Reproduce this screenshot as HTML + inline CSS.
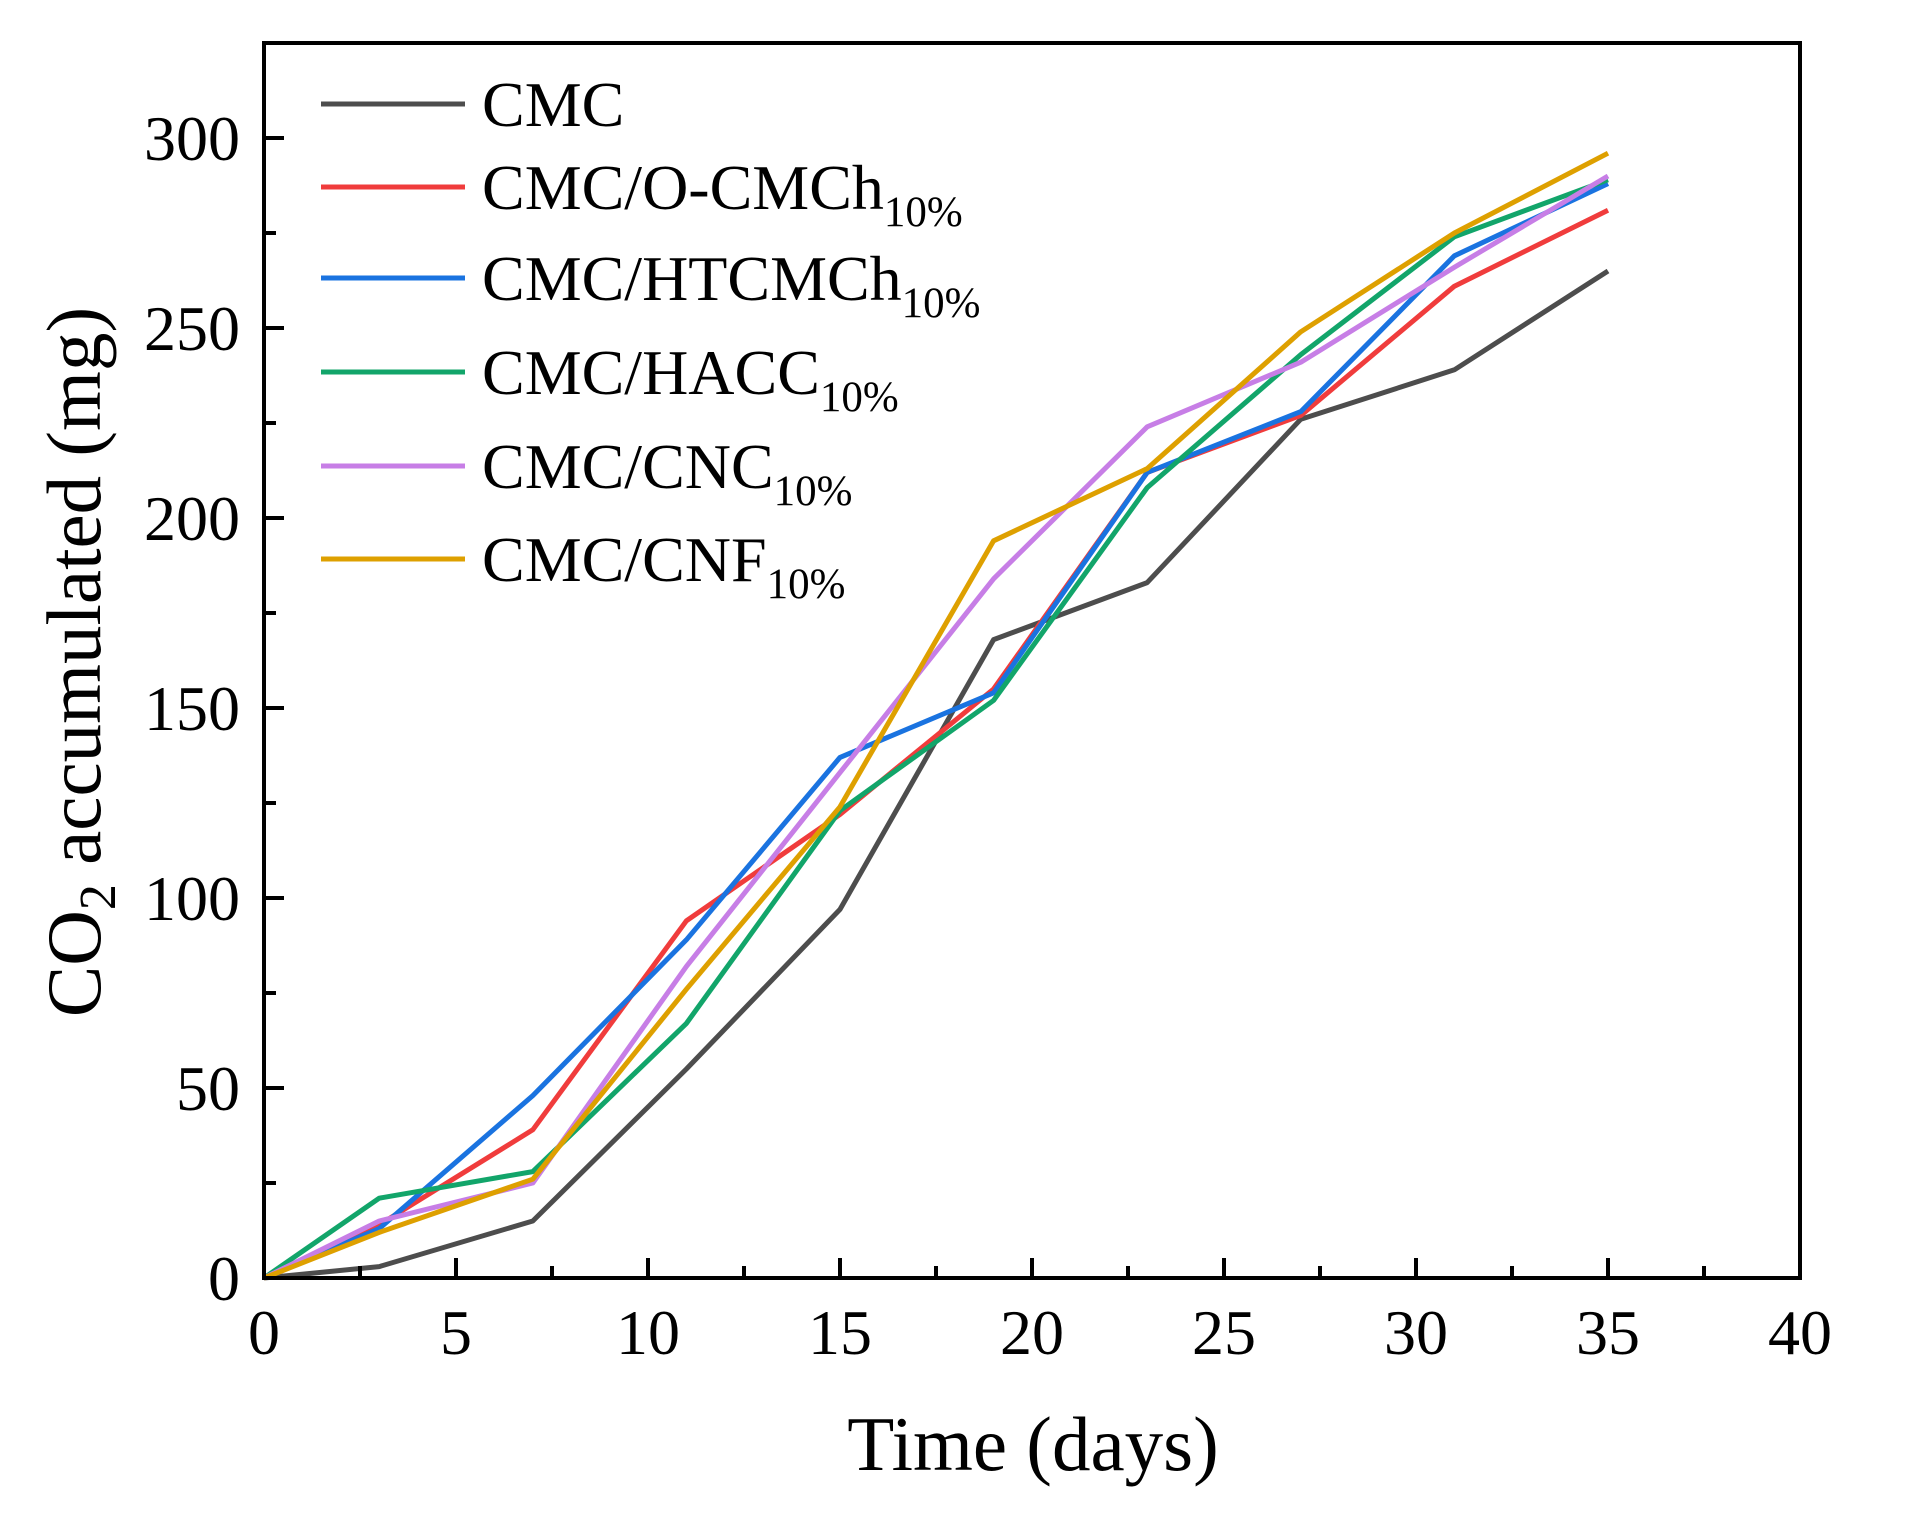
<!DOCTYPE html>
<html><head><meta charset="utf-8"><style>
body{margin:0;background:#fff}
svg text{font-family:"Liberation Serif",serif;fill:#000}
</style></head><body>
<svg id="chart" width="1912" height="1528" xmlns="http://www.w3.org/2000/svg">
</svg>
<script>
const days = [0,3,7,11,15,19,23,27,31,35];
const seriesNames = ["CMC","CMC/O-CMCh","CMC/HTCMCh","CMC/HACC","CMC/CNC","CMC/CNF"];
const seriesSubs = ["","10%","10%","10%","10%","10%"];
const colors = ["#4d4d4d","#f03c3c","#1a73e0","#12a56a","#c77ee6","#dea000"];
const cmc = [0,3,15,55,97,168,183,226,239,265];
const ocmch = [0,14,39,94,122,155,212,227,261,281];
const htcmch = [0,13,48,89,137,154,212,228,269,288];
const hacc = [0,21,28,67,123,152,208,243,274,289];
const cnc = [0,15,25,82,133,184,224,241,266,290];
const cnf = [0,12,26,76,124,194,213,249,275,296];
const xTicks = [0,5,10,15,20,25,30,35,40];
const yTicks = [0,50,100,150,200,250,300];

const NS="http://www.w3.org/2000/svg";
const svg=document.getElementById('chart');
const L=264,R=1800,T=43,B=1278;
const xs=v=>L+(R-L)*v/40;
const ys=v=>B-(v/50)*190;
function mk(tag,attrs,parent){const e=document.createElementNS(NS,tag);for(const k in attrs)e.setAttribute(k,attrs[k]);(parent||svg).appendChild(e);return e;}

const data=[cmc,ocmch,htcmch,hacc,cnc,cnf];
data.forEach((arr,i)=>{
  const p=mk('polyline',{points:arr.map((v,j)=>xs(days[j])+','+ys(v)).join(' '),fill:'none',stroke:colors[i],'stroke-width':5,'stroke-linejoin':'round'});
  
  
});
const fr=mk('rect',{x:L,y:T,width:R-L,height:B-T,fill:'none',stroke:'#000','stroke-width':4});


for(let v=0;v<=40;v+=2.5){
  const major=v%5===0;
  const t=mk('line',{x1:xs(v),x2:xs(v),y1:B,y2:B-(major?20:12),stroke:'#000','stroke-width':4});
  
  
}
xTicks.forEach(v=>{
  const t=mk('text',{x:xs(v),y:1354,'font-size':64,'text-anchor':'middle'});
  t.textContent=v;
  
  
});
for(let v=0;v<=325;v+=25){
  const major=v%50===0;
  const t=mk('line',{x1:L,x2:L+(major?20:12),y1:ys(v),y2:ys(v),stroke:'#000','stroke-width':4});
  
  
}
yTicks.forEach(v=>{
  const t=mk('text',{x:240,y:ys(v)+22,'font-size':64,'text-anchor':'end'});
  t.textContent=v;
  
  
});
const xt=mk('text',{x:1033,y:1470,'font-size':77,'text-anchor':'middle'});
xt.textContent='Time (days)';


const yt=mk('text',{transform:'translate(100,662) rotate(-90)','font-size':77,'text-anchor':'middle'});
yt.innerHTML='CO<tspan font-size="52" dy="15">2</tspan><tspan dy="-15"> accumulated (mg)</tspan>';


const rows=[104,187,278,372,466,559];
seriesNames.forEach((n,i)=>{
  const g=mk('g',{});
  
  
  mk('line',{x1:321,x2:465,y1:rows[i],y2:rows[i],stroke:colors[i],'stroke-width':5},g);
  const t=mk('text',{x:482,y:rows[i]+22,'font-size':64},g);
  t.innerHTML=n+(seriesSubs[i]?'<tspan font-size="43" dy="17">'+seriesSubs[i]+'</tspan>':'');
});
</script>
</body></html>
